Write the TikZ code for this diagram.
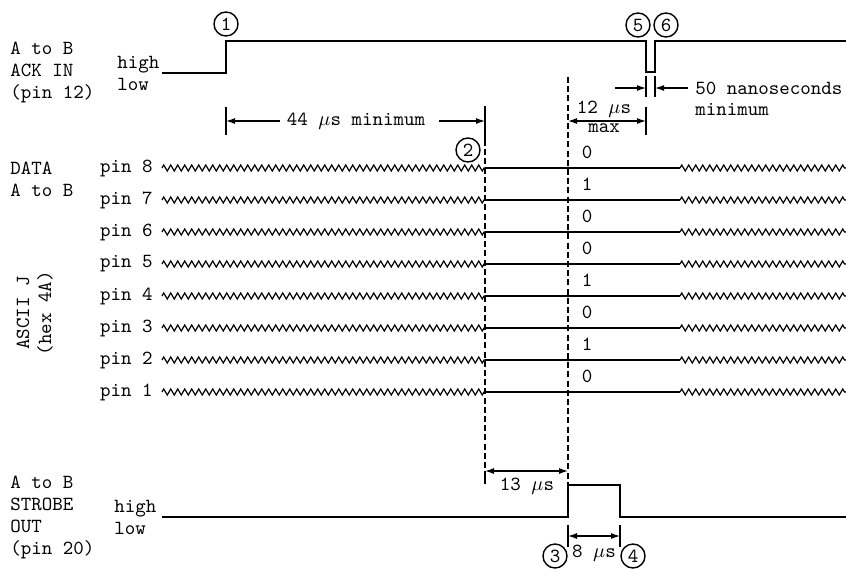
\documentclass[tikz,border=0pt]{standalone}
\usetikzlibrary{arrows.meta,decorations.pathmorphing}
\tikzset{
  lbl/.style={font=\fontsize{10}{11}\selectfont\ttfamily, align=left, inner sep=0pt},
  sig/.style={line width=0.85pt},
  zig/.style={line width=0.6pt, decorate, decoration={zigzag, segment length=3.5pt, amplitude=1.5pt}},
  guide/.style={line width=0.7pt, dash pattern=on 3pt off 1.6pt},
  tick/.style={line width=0.7pt},
  dimarrow/.style={line width=0.6pt, -{Latex[length=4.5pt,width=3pt]}},
  dimboth/.style={line width=0.6pt, {Latex[length=4.5pt,width=3pt]}-{Latex[length=4.5pt,width=3pt]}},
  numcircle/.style={draw, circle, line width=0.7pt, inner sep=0pt, minimum size=12pt, font=\fontsize{10}{10}\selectfont\ttfamily},
}
\begin{document}
\begin{tikzpicture}[x=0.5pt, y=-0.5pt]
\useasboundingbox (0,0) rectangle (846,568);

% Time points and dimension levels
\coordinate (t1) at (226,0);
\coordinate (t2) at (485,0);
\coordinate (t3) at (568,0);
\coordinate (t4) at (620,0);
\coordinate (t5) at (646,0);
\coordinate (t6) at (655,0);
\coordinate (lev12) at (0,121);
\coordinate (lev13) at (0,471);
\coordinate (lev8) at (0,536);
\coordinate (nsstart) at (615,88);

% ACK IN signal
\node[lbl, anchor=west] (acklbl) at (10,72) {A to B\\ACK IN\\(pin 12)};
\node[lbl, anchor=west] (acklev) at (117,73) {high\\low};
\draw[sig] (162,73) -- (226,73) -- (226,41) -- (646,41) -- (646,72) -- (655,72) -- (655,41) -- (846,41);
\node[numcircle] (c1) at (226,24) {1};
\node[numcircle] (c5) at (638,25) {5};
\node[numcircle] (c6) at (666,25) {6};

% 50 nanoseconds
\draw[tick] (646,76) -- (646,97);
\draw[tick] (655,76) -- (655,97);
\node[lbl, anchor=west] (ns50) at (695,88) {50 nanoseconds};
\node[lbl, anchor=west] (nsmin) at (695,110) {minimum};
\draw[dimarrow] (nsstart) -- (t5 |- nsstart);
\draw[dimarrow] ([xshift=-3.5pt]ns50.west) -- (t6 |- ns50.west);

% 44 us minimum
\draw[tick] (226,107) -- (226,135);
\node[lbl] (dim44) at (356,121) {44 $\mu$s minimum};
\draw[dimarrow] ([xshift=-3.5pt]dim44.west) -- (t1 |- lev12);
\draw[dimarrow] ([xshift=7pt]dim44.east) -- (t2 |- lev12);

% 12 us max
\draw[tick] (646,107) -- (646,135);
\node[lbl] (dim12) at (604,109) {12 $\mu$s};
\node[lbl] (max12) at (604,128) {max};
\draw[dimboth] (t3 |- lev12) -- (t5 |- lev12);

% Guide lines
\draw[tick] (485,106) -- (485,140);
\draw[guide] (485,140) -- (485,472);
\draw[tick] (485,472) -- (485,484);
\draw[guide] (568,77) -- (568,485);
\node[numcircle] (c2) at (468,150) {2};

% Data lines
\node[lbl, anchor=west] (datalbl) at (10,179) {DATA\\A to B};
\node[lbl, rotate=90] (ascii) at (23,313) {ASCII J};
\node[lbl, rotate=90] (hex) at (45,313) {(hex 4A)};

\node[lbl, anchor=east] (pin8) at (153,168) {pin 8};
\draw[zig] (162,168) -- (485,168);
\draw[sig] (485,168) -- (680,168);
\draw[zig] (680,168) -- (846,168);
\node[lbl] (bit8) at (587,152) {0};

\node[lbl, anchor=east] (pin7) at (153,200) {pin 7};
\draw[zig] (162,200) -- (485,200);
\draw[sig] (485,200) -- (680,200);
\draw[zig] (680,200) -- (846,200);
\node[lbl] (bit7) at (587,184) {1};

\node[lbl, anchor=east] (pin6) at (153,232) {pin 6};
\draw[zig] (162,232) -- (485,232);
\draw[sig] (485,232) -- (680,232);
\draw[zig] (680,232) -- (846,232);
\node[lbl] (bit6) at (587,216) {0};

\node[lbl, anchor=east] (pin5) at (153,264) {pin 5};
\draw[zig] (162,264) -- (485,264);
\draw[sig] (485,264) -- (680,264);
\draw[zig] (680,264) -- (846,264);
\node[lbl] (bit5) at (587,248) {0};

\node[lbl, anchor=east] (pin4) at (153,296) {pin 4};
\draw[zig] (162,296) -- (485,296);
\draw[sig] (485,296) -- (680,296);
\draw[zig] (680,296) -- (846,296);
\node[lbl] (bit4) at (587,280) {1};

\node[lbl, anchor=east] (pin3) at (153,328) {pin 3};
\draw[zig] (162,328) -- (485,328);
\draw[sig] (485,328) -- (680,328);
\draw[zig] (680,328) -- (846,328);
\node[lbl] (bit3) at (587,312) {0};

\node[lbl, anchor=east] (pin2) at (153,360) {pin 2};
\draw[zig] (162,360) -- (485,360);
\draw[sig] (485,360) -- (680,360);
\draw[zig] (680,360) -- (846,360);
\node[lbl] (bit2) at (587,344) {1};

\node[lbl, anchor=east] (pin1) at (153,392) {pin 1};
\draw[zig] (162,392) -- (485,392);
\draw[sig] (485,392) -- (680,392);
\draw[zig] (680,392) -- (846,392);
\node[lbl] (bit1) at (587,376) {0};

% 13 us
\draw[dimboth] (t2 |- lev13) -- (t3 |- lev13);
\node[lbl] (dim13) at (527,486) {13 $\mu$s};

% STROBE OUT signal
\node[lbl, anchor=west] (strlbl) at (10,517) {A to B\\STROBE\\OUT\\(pin 20)};
\node[lbl, anchor=west] (strlev) at (114,517) {high\\low};
\draw[sig] (162,517) -- (568,517) -- (568,485) -- (620,485) -- (620,517) -- (846,517);

% 8 us
\draw[tick] (568,525) -- (568,547);
\draw[tick] (620,525) -- (620,547);
\draw[dimboth] (t3 |- lev8) -- (t4 |- lev8);
\node[lbl] (dim8) at (594,553) {8 $\mu$s};
\node[numcircle] (c3) at (555,556) {3};
\node[numcircle] (c4) at (633,556) {4};
\end{tikzpicture}
\end{document}
